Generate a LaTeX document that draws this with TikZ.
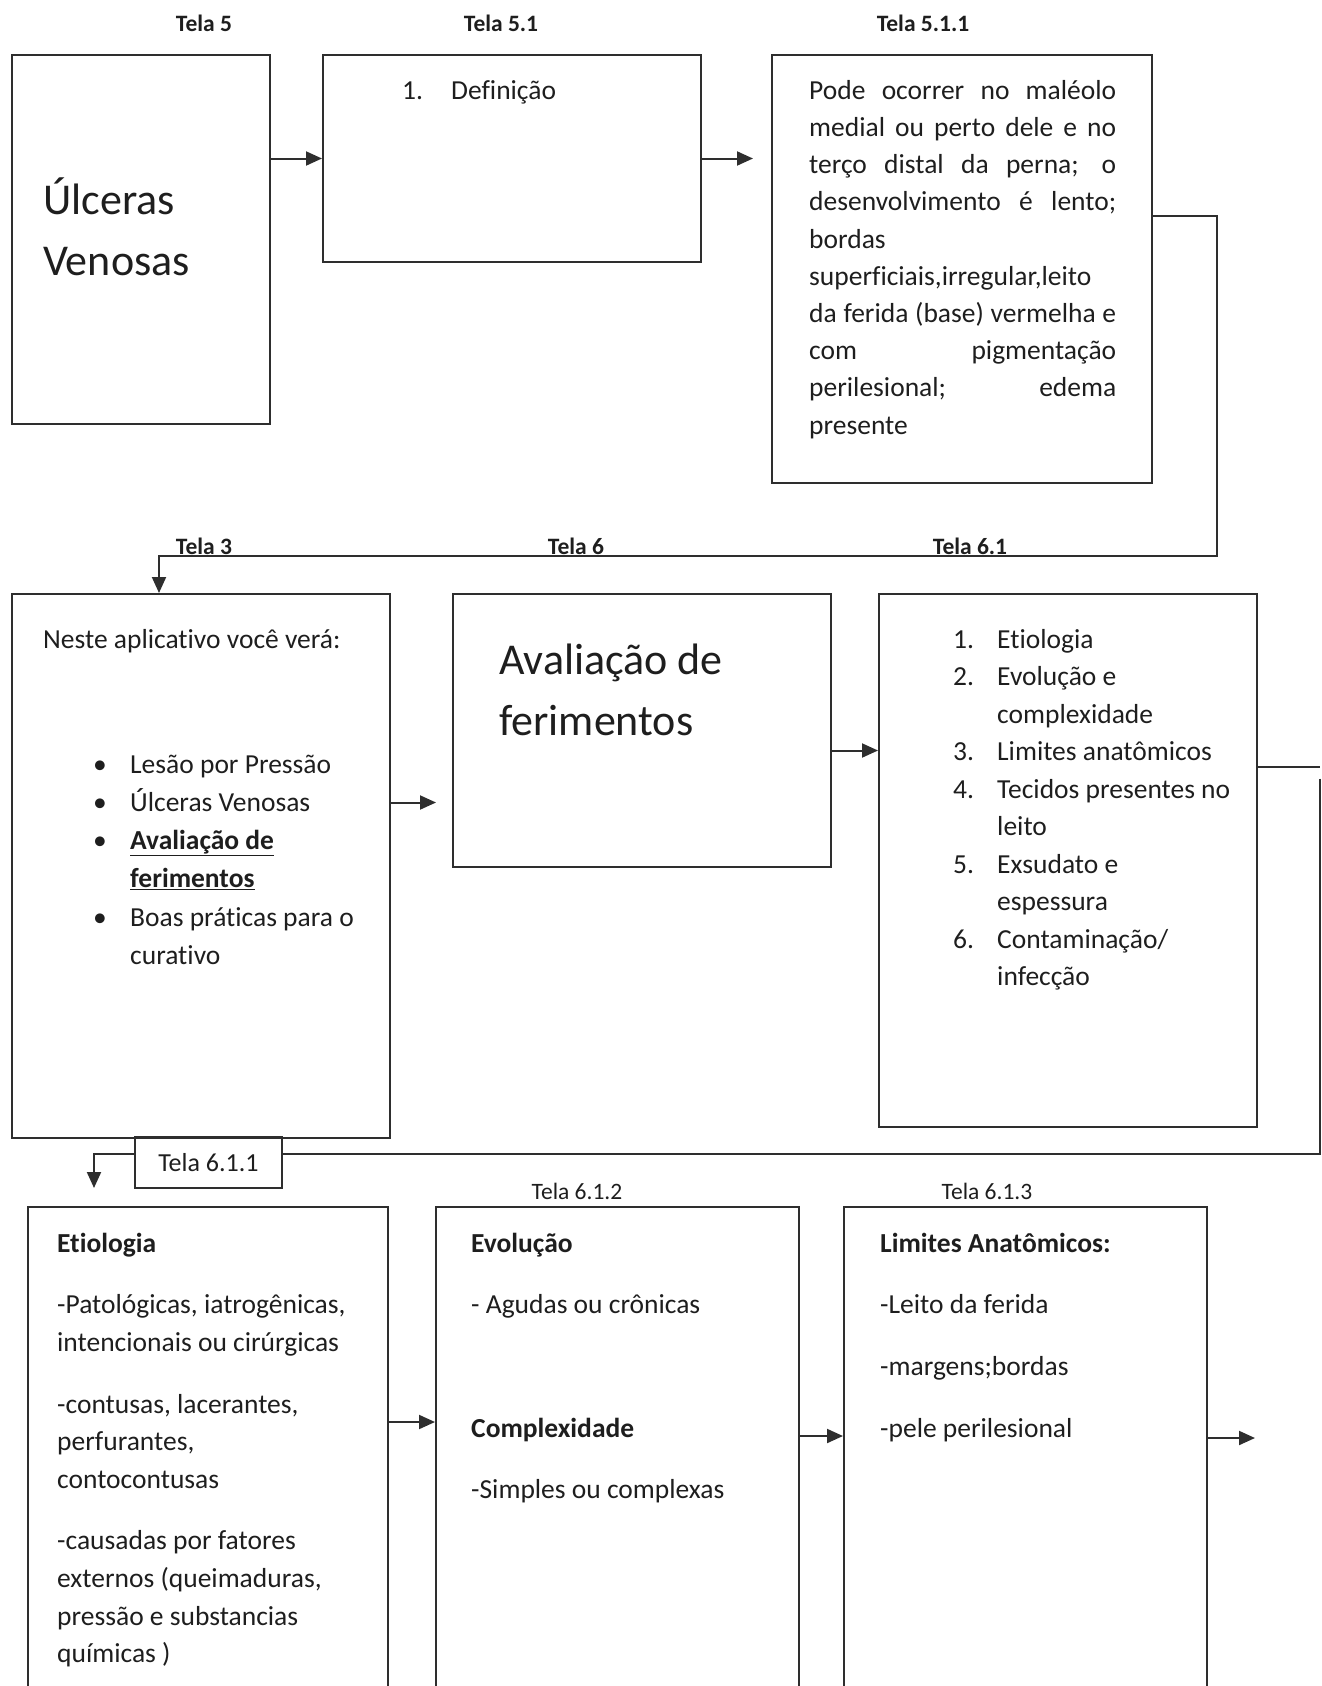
\documentclass[tikz,border=0pt]{standalone}
\usepackage{fontspec}
\setmainfont[Ligatures={NoCommon}]{Carlito}
\usepackage{tikz}
\usetikzlibrary{positioning,arrows.meta}
\usepackage{xcolor}
\definecolor{ink}{HTML}{1E1E1E}
\definecolor{rule}{HTML}{2E2E2E}

\newcommand{\bodyfont}{\fontsize{27.5}{37.6}\selectfont}
\newcommand{\titlefont}{\fontsize{44}{61.5}\selectfont}
\newcommand{\telafont}{\fontsize{23.5}{28}\selectfont\bfseries}
\newcommand{\tstrut}{\rule{0pt}{24pt}}
\newcommand{\jline}[1]{\makebox[307pt][s]{#1}}
\newcommand{\bul}{\makebox[37pt][l]{\textbullet}}
\newcommand{\itemno}[1]{\makebox[44pt][l]{#1}}

\begin{document}
\begin{tikzpicture}[
    x=1pt, y=-1pt,
    screen/.style={draw=rule, line width=2pt, inner sep=0pt, anchor=north west},
    tela/.style={font=\telafont, text=ink, anchor=base},
    txt/.style={font=\bodyfont, text=ink, anchor=north west, align=left, inner sep=0pt},
    big/.style={font=\titlefont, text=ink, anchor=north west, align=left, inner sep=0pt},
    arr/.style={draw=rule, line width=2pt, -{Triangle[length=16pt, width=14pt]}},
    link/.style={draw=rule, line width=2pt}
]
    \useasboundingbox (0,0) rectangle (1322,1686);
    \clip (0,0) rectangle (1322,1686);

    % Screens, top row
    \node[screen, minimum width=258, minimum height=369] (t5) at (11,54) {};
    \node[screen, minimum width=378, minimum height=207] (t51) at (322,54) {};
    \node[screen, minimum width=380, minimum height=428] (t511) at (771,54) {};

    % Screens, middle row
    \node[screen, minimum width=378, minimum height=544] (t3) at (11,593) {};
    \node[screen, minimum width=378, minimum height=273] (t6) at (452,593) {};
    \node[screen, minimum width=378, minimum height=533] (t61) at (878,593) {};

    % Screens, bottom row (run past the page)
    \node[screen, minimum width=360, minimum height=560] (t611) at (27,1206) {};
    \node[screen, minimum width=363, minimum height=560] (t612) at (435,1206) {};
    \node[screen, minimum width=363, minimum height=560] (t613) at (843,1206) {};

    % Screen titles
    \node[tela] (h5) at (204,32) {Tela 5};
    \node[tela] (h51) at (501,32) {Tela 5.1};
    \node[tela] (h511) at (923,32) {Tela 5.1.1};
    \node[tela] (h3) at (204,554) {Tela 3};
    \node[tela] (h6) at (576,554) {Tela 6};
    \node[tela] (h61) at (970,554) {Tela 6.1};
    \node[tela, font=\fontsize{23.5}{28}\selectfont] (h612) at (577,1199) {Tela 6.1.2};
    \node[tela, font=\fontsize{23.5}{28}\selectfont] (h613) at (987,1199) {Tela 6.1.3};
    \node[draw=rule, line width=2pt, minimum width=147, minimum height=51, inner sep=0pt,
        font=\fontsize{26}{30}\selectfont, text=ink] (lbl611) at (208.5,1162.5) {Tela 6.1.1};

    % Tela 5
    \node[big] (u5) at (43,174) {\rule{0pt}{40pt}Úlceras\\Venosas};

    % Tela 5.1
    \node[txt] (d51) at (402,75) {\tstrut\makebox[49pt][l]{1.}Definição};

    % Tela 5.1.1
    \node[txt, font=\fontsize{27.5}{37.2}\selectfont] (d511) at (809,75) {%
        \jline{\tstrut Pode ocorrer no maléolo}\\
        \jline{medial ou perto dele e no}\\
        \jline{terço distal da perna; o}\\
        \jline{desenvolvimento é lento;}\\
        bordas\\
        superficiais,irregular,leito\\
        \jline{da ferida (base) vermelha e}\\
        \jline{com pigmentação}\\
        \jline{perilesional; edema}\\
        presente};

    % Tela 3
    \node[txt] (n3) at (43,624) {\tstrut Neste aplicativo você verá:};
    \node[txt, font=\fontsize{27.5}{38.2}\selectfont] (l3) at (93,749) {%
        \tstrut\bul Lesão por Pressão\\
        \bul Úlceras Venosas\\
        \bul\underline{\textbf{Avaliação de}}\\
        \hspace*{37pt}\underline{\textbf{ferimentos}}\\
        \bul Boas práticas para o\\
        \hspace*{37pt}curativo};

    % Tela 6
    \node[big] (a6) at (499,634) {\rule{0pt}{40pt}Avaliação de\\ferimentos};

    % Tela 6.1
    \node[txt, font=\fontsize{27.5}{37.5}\selectfont] (l61) at (953,624) {%
        \tstrut\itemno{1.}Etiologia\\
        \itemno{2.}Evolução e\\
        \hspace*{44pt}complexidade\\
        \itemno{3.}Limites anatômicos\\
        \itemno{4.}Tecidos presentes no\\
        \hspace*{44pt}leito\\
        \itemno{5.}Exsudato e\\
        \hspace*{44pt}espessura\\
        \itemno{6.}Contaminação/\\
        \hspace*{44pt}infecção};

    % Tela 6.1.1
    \node[txt] (e611) at (57,1228) {%
        \tstrut\textbf{Etiologia}\\[24pt]
        -Patológicas, iatrogênicas,\\
        intencionais ou cirúrgicas\\[24pt]
        -contusas, lacerantes,\\
        perfurantes,\\
        contocontusas\\[24pt]
        -causadas por fatores\\
        externos (queimaduras,\\
        pressão e substancias\\
        químicas )};

    % Tela 6.1.2
    \node[txt] (e612) at (471,1228) {%
        \tstrut\textbf{Evolução}\\[24pt]
        - Agudas ou crônicas\\[85.6pt]
        \textbf{Complexidade}\\[24pt]
        -Simples ou complexas};

    % Tela 6.1.3
    \node[txt] (e613) at (880,1228) {%
        \tstrut\textbf{Limites Anatômicos:}\\[24pt]
        -Leito da ferida\\[24pt]
        -margens;bordas\\[24pt]
        -pele perilesional};

    % Connectors, top row
    \draw[arr] (t5.east |- t51.west) -- (t51.west);
    \coordinate (tip511) at ([xshift=-18]t511.north west);
    \draw[arr] (t51.east) -- (t51.east -| tip511);

    % Tela 5.1.1 back to Tela 3
    \draw[arr] ([yshift=53]t511.east) -- ++(64,0) -- ++(0,340) -| ([xshift=148]t3.north west);

    % Connectors, middle row
    \coordinate (tip6) at ([xshift=-16,yshift=-72]t6.west);
    \draw[arr] (t3.east |- tip6) -- (tip6);
    \coordinate (o6) at ([yshift=-20]t6.east);
    \draw[arr] (o6) -- (o6 -| t61.west);

    % Tela 6.1 down to Tela 6.1.1
    \coordinate (o61) at ([yshift=94]t61.east);
    \coordinate (c61) at ([xshift=62]o61);
    \draw[link] (o61) -- (c61);
    \draw[link] ([yshift=-12]c61) |- ([yshift=9]lbl611.east);
    \coordinate (tip611) at ([xshift=67,yshift=18]t611.north west);
    \draw[arr] ([yshift=9]lbl611.west) -| (tip611);

    % Connectors, bottom row
    \coordinate (o611) at ([yshift=65]t611.east);
    \draw[arr] (o611) -- (o611 -| t612.west);
    \coordinate (o612) at ([yshift=51]t612.east);
    \draw[arr] (o612) -- (o612 -| t613.west);
    \coordinate (o613) at ([yshift=49]t613.east);
    \coordinate (tipout) at ([xshift=47]o613);
    \draw[arr] (o613) -- (tipout);
\end{tikzpicture}
\end{document}
